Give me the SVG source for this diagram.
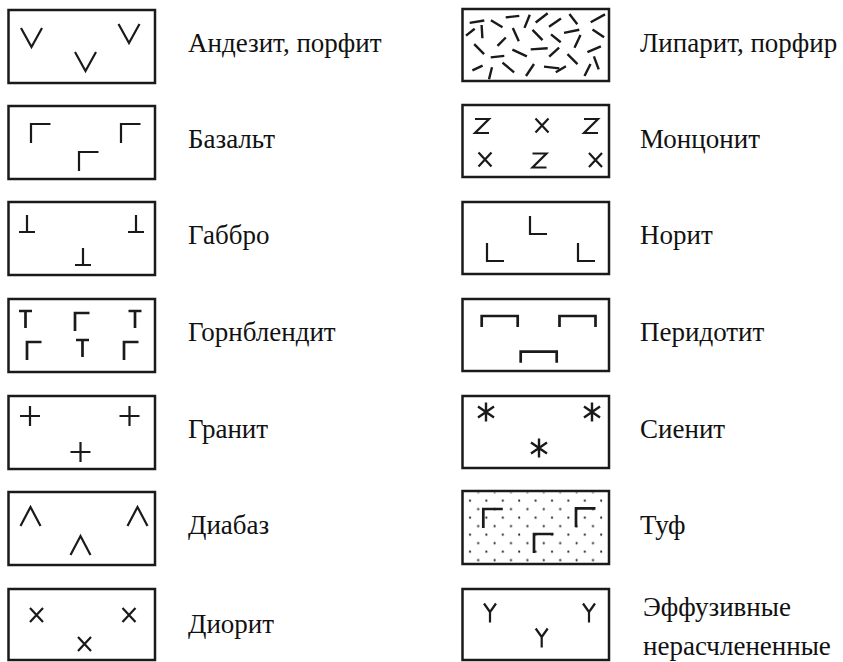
<svg xmlns="http://www.w3.org/2000/svg" xmlns:xlink="http://www.w3.org/1999/xlink" width="843" height="662" viewBox="0 0 843 662">
<style>
.box{fill:#fff;stroke:#1a1a1a;stroke-width:2.5}
.sym{fill:none;stroke:#1a1a1a;stroke-width:2.2}
.thk{fill:none;stroke:#1a1a1a;stroke-width:2.7}
.lbl{font-family:'Liberation Serif','DejaVu Serif',serif;font-size:27px;fill:#111}
</style>
<defs>
<path id="v" d="M-10.5,0 L0,19 L10.5,0"/>
<path id="g" d="M0,19 V0 H19.5"/>
<path id="gs" d="M0,18 V0 H14.5"/>
<path id="perp" d="M0,0 V17 M-8,17 H8"/>
<path id="t" d="M-6.5,0 H6.5 M0,0 V17"/>
<path id="plus" d="M-10,0 H10 M0,-10 V10"/>
<path id="lam" d="M-10,19 L0,0 L10,19"/>
<path id="x" d="M-6.5,-7 L6.5,7 M-6.5,7 L6.5,-7"/>
<path id="z" d="M-7,-7 H7 L-7,7 H7"/>
<path id="l" d="M0,0 V18 H17"/>
<path id="pi" d="M0,11 V0 H36 V11"/>
<path id="ast" d="M0,-9.5 V9.5 M-8,-5.5 L8,5.5 M-8,5.5 L8,-5.5"/>
<path id="y" d="M-6,-9.5 L0,-1 L6,-9.5 M0,-1 V9.5"/>
<pattern id="dots" x="466" y="496.5" width="16.4" height="17" patternUnits="userSpaceOnUse">
<circle cx="4" cy="4.2" r="1.1" fill="#222"/>
<circle cx="12.2" cy="12.7" r="1.1" fill="#222"/>
</pattern>
</defs>

<g id="andezit">
<rect class="box" x="8.5" y="10" width="146.5" height="73"/>
<g class="sym"><use href="#v" x="31.5" y="28"/><use href="#v" x="129" y="24"/><use href="#v" x="85.5" y="52"/></g>
<text class="lbl" x="188" y="52">Андезит, порфит</text>
</g>

<g id="bazalt">
<rect class="box" x="8.5" y="106" width="146.5" height="73"/>
<g class="sym"><use href="#g" x="31" y="124"/><use href="#g" x="121" y="124"/><use href="#g" x="79" y="152"/></g>
<text class="lbl" x="188" y="148">Базальт</text>
</g>

<g id="gabbro">
<rect class="box" x="8.5" y="202" width="146.5" height="73"/>
<g class="sym"><use href="#perp" x="27" y="215"/><use href="#perp" x="136" y="215"/><use href="#perp" x="83" y="248"/></g>
<text class="lbl" x="188" y="244">Габбро</text>
</g>

<g id="gornblendit">
<rect class="box" x="8.5" y="299" width="146.5" height="73"/>
<g class="thk"><use href="#t" x="25.5" y="311"/><use href="#t" x="135" y="311"/><use href="#t" x="82.5" y="340"/>
<use href="#gs" x="75" y="313"/><use href="#gs" x="27" y="342"/><use href="#gs" x="124" y="342"/></g>
<text class="lbl" x="188" y="341">Горнблендит</text>
</g>

<g id="granit">
<rect class="box" x="8.5" y="396" width="146.5" height="73"/>
<g class="sym"><use href="#plus" x="30" y="416"/><use href="#plus" x="129.5" y="416"/><use href="#plus" x="80.5" y="452"/></g>
<text class="lbl" x="188" y="438">Гранит</text>
</g>

<g id="diabaz">
<rect class="box" x="8.5" y="492" width="146.5" height="73"/>
<g class="sym"><use href="#lam" x="30.5" y="507"/><use href="#lam" x="137.5" y="507"/><use href="#lam" x="80.5" y="536"/></g>
<text class="lbl" x="188" y="534">Диабаз</text>
</g>

<g id="diorit">
<rect class="box" x="8.5" y="589" width="146.5" height="71"/>
<g class="sym"><use href="#x" x="36.5" y="615"/><use href="#x" x="129" y="615"/><use href="#x" x="84.5" y="644"/></g>
<text class="lbl" x="188" y="633">Диорит</text>
</g>

<g id="liparit">
<rect class="box" x="462.5" y="9" width="146.5" height="72"/>
<g class="thk" style="stroke-width:2.4">
<path d="M469.7,22.9 L484.3,20.5 M490.9,20.2 L502.5,27.2 M505.7,17.4 L519.3,15.9 M524.5,27.9 L529.8,14.8 M535.7,22.5 L547.7,13.2 M549,26.7 L561,18.6 M569.4,14 L577.3,24.3 M590.7,22.3 L605,14.4"/>
<path d="M466,35.6 L474.7,28.7 M481.6,25 L482.4,38.3 M497.5,45.8 L505.8,37.5 M512.8,28.1 L518.8,41.2 M532.5,29.8 L542.5,40.2 M564,32.9 L579.3,29.8 M592.5,29.4 L604.1,37.3 M551,34.4 L560.7,42.3 M580.5,35 L574.5,47.7"/>
<path d="M474.2,44.2 L484.1,54.1 M490.7,57.4 L504.3,55.9 M512.4,49.6 L526.9,56.4 M530.7,49.4 L547.7,48.2 M549.2,56.7 L559.1,47.6 M567.5,54.2 L577.5,64.1 M587.4,52.1 L600.9,46.3 M593.9,56.3 L598.7,69.3"/>
<path d="M472.4,70.4 L482.6,65.6 M492,67.3 L489,79.3 M502.5,62.6 L514.1,72.4 M526,76 L534,64 M544,66.6 L559.3,68.4 M555.8,72.2 L565.9,66.2 M584.5,76 L590.5,64"/>
</g>
<text class="lbl" x="640" y="52">Липарит, порфир</text>
</g>

<g id="moncanit">
<rect class="box" x="462.5" y="105" width="146.5" height="72"/>
<g class="sym"><use href="#z" x="482" y="126"/><use href="#x" x="542" y="125.5"/><use href="#z" x="591" y="126"/>
<use href="#x" x="485" y="159.5"/><use href="#z" x="539.5" y="160.5"/><use href="#x" x="595.5" y="160"/></g>
<text class="lbl" x="640" y="148">Монцонит</text>
</g>

<g id="norit">
<rect class="box" x="462.5" y="202" width="146.5" height="72"/>
<g class="sym"><use href="#l" x="530" y="216"/><use href="#l" x="487" y="243"/><use href="#l" x="578" y="243"/></g>
<text class="lbl" x="640" y="244">Норит</text>
</g>

<g id="peridotit">
<rect class="box" x="462.5" y="299" width="146.5" height="72"/>
<g class="thk"><use href="#pi" x="481.7" y="316"/><use href="#pi" x="559.5" y="316"/><use href="#pi" x="520.7" y="351.7"/></g>
<text class="lbl" x="640" y="341">Перидотит</text>
</g>

<g id="sienit">
<rect class="box" x="462.5" y="396" width="146.5" height="72"/>
<g class="thk" style="stroke-width:2.4"><use href="#ast" x="486" y="412"/><use href="#ast" x="592" y="412"/><use href="#ast" x="539" y="448"/></g>
<text class="lbl" x="640" y="438">Сиенит</text>
</g>

<g id="tuf">
<rect class="box" x="462.5" y="491" width="146.5" height="73"/>
<rect x="464" y="492.5" width="143.5" height="70" fill="url(#dots)"/>
<g class="thk"><use href="#g" x="483.3" y="509"/><use href="#g" x="576" y="508.3"/><use href="#g" x="534" y="534"/></g>
<text class="lbl" x="640" y="534">Туф</text>
</g>

<g id="effuzivnye">
<rect class="box" x="462.5" y="589" width="146.5" height="71"/>
<g class="sym"><use href="#y" x="490" y="613"/><use href="#y" x="589" y="613"/><use href="#y" x="541.7" y="638"/></g>
<text class="lbl" x="643" y="616">Эффузивные</text>
<text class="lbl" x="643" y="655">нерасчлененные</text>
</g>
</svg>
